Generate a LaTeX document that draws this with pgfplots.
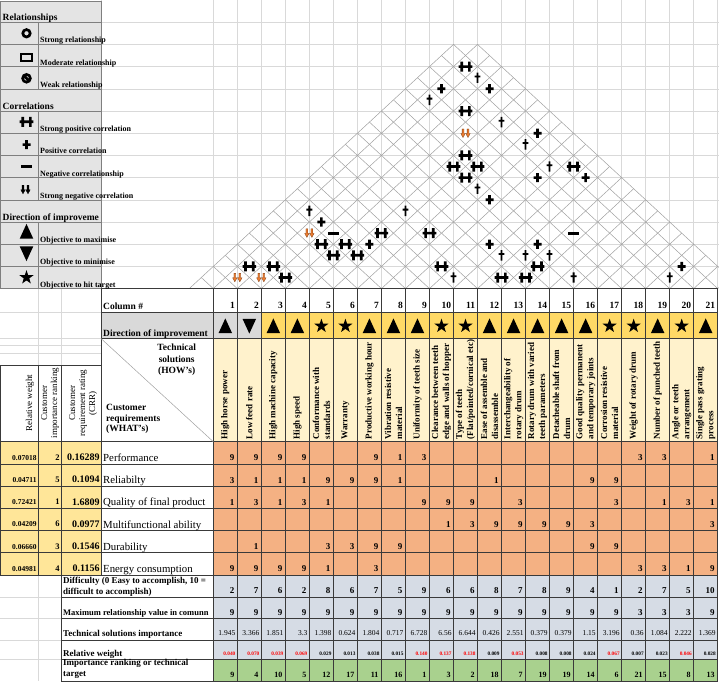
\documentclass[border=0pt]{standalone}
\usepackage{fontspec}
\setmainfont{Liberation Serif}
\usepackage{pgfplots}
\pgfplotsset{compat=1.18}
\usepackage{pgfplotstable}

\definecolor{lgrid}{HTML}{D9D9D9}
\definecolor{roofc}{HTML}{A0A0A0}
\definecolor{bord}{HTML}{3A3A3A}
\definecolor{legg}{HTML}{E4E4E4}
\definecolor{legb}{HTML}{7F7F7F}
\definecolor{diry}{HTML}{FFD966}
\definecolor{dirg}{HTML}{D9D9D9}
\definecolor{hdry}{HTML}{FFF2CC}
\definecolor{cello}{HTML}{F4B183}
\definecolor{lefty}{HTML}{FFE699}
\definecolor{botb}{HTML}{D6DCE5}
\definecolor{botg}{HTML}{A9D18E}
\definecolor{arro}{HTML}{ED7D31}
\definecolor{arrd}{HTML}{7A3A10}

\newcommand{\fz}[2]{\fontsize{#1}{#2}\selectfont}

% ---------- plot marks ----------
\pgfdeclareplotmark{spos}{%
  \pgfpathrectangle{\pgfpoint{-6.8pt}{-1.35pt}}{\pgfpoint{13.6pt}{2.7pt}}%
  \pgfpathrectangle{\pgfpoint{-5.2pt}{-5pt}}{\pgfpoint{2.7pt}{10pt}}%
  \pgfpathrectangle{\pgfpoint{2.5pt}{-5pt}}{\pgfpoint{2.7pt}{10pt}}%
  \pgfusepathqfill}
\pgfdeclareplotmark{pos}{%
  \pgfpathrectangle{\pgfpoint{-4pt}{-1.35pt}}{\pgfpoint{8pt}{2.7pt}}%
  \pgfpathrectangle{\pgfpoint{-1.35pt}{-4.6pt}}{\pgfpoint{2.7pt}{9.2pt}}%
  \pgfusepathqfill}
\pgfdeclareplotmark{wpos}{%
  \pgfpathrectangle{\pgfpoint{-2.9pt}{0.4pt}}{\pgfpoint{5.8pt}{1.8pt}}%
  \pgfpathrectangle{\pgfpoint{-0.9pt}{-5.2pt}}{\pgfpoint{1.8pt}{10.4pt}}%
  \pgfusepathqfill}
\pgfdeclareplotmark{negm}{%
  \pgfpathrectangle{\pgfpoint{-5.2pt}{-1.5pt}}{\pgfpoint{10.4pt}{3pt}}%
  \pgfusepathqfill}
\newcommand{\twoarrows}{%
  \pgfpathmoveto{\pgfpoint{-3.4pt}{4.3pt}}\pgfpathlineto{\pgfpoint{-3.4pt}{-0.3pt}}%
  \pgfpathlineto{\pgfpoint{-4.7pt}{-0.3pt}}\pgfpathlineto{\pgfpoint{-2.5pt}{-4.3pt}}%
  \pgfpathlineto{\pgfpoint{-0.3pt}{-0.3pt}}\pgfpathlineto{\pgfpoint{-1.6pt}{-0.3pt}}%
  \pgfpathlineto{\pgfpoint{-1.6pt}{4.3pt}}\pgfpathclose
  \pgfpathmoveto{\pgfpoint{1.6pt}{4.3pt}}\pgfpathlineto{\pgfpoint{1.6pt}{-0.3pt}}%
  \pgfpathlineto{\pgfpoint{0.3pt}{-0.3pt}}\pgfpathlineto{\pgfpoint{2.5pt}{-4.3pt}}%
  \pgfpathlineto{\pgfpoint{4.7pt}{-0.3pt}}\pgfpathlineto{\pgfpoint{3.4pt}{-0.3pt}}%
  \pgfpathlineto{\pgfpoint{3.4pt}{4.3pt}}\pgfpathclose}
\pgfdeclareplotmark{sneg}{%
  \pgfsetlinewidth{0.3pt}\pgfsetfillcolor{arro}\pgfsetstrokecolor{arrd}%
  \twoarrows\pgfusepathqfillstroke}
\pgfdeclareplotmark{snegk}{%
  \pgfsetlinewidth{0.3pt}\pgfsetfillcolor{black}\pgfsetstrokecolor{black}%
  \twoarrows\pgfusepathqfillstroke}
\pgfdeclareplotmark{ring}{%
  \pgfsetlinewidth{2.7pt}\pgfpathcircle{\pgfpointorigin}{3.7pt}\pgfusepathqstroke}
\pgfdeclareplotmark{sqr}{%
  \pgfsetlinewidth{1.9pt}\pgfpathrectangle{\pgfpoint{-5.2pt}{-3.8pt}}{\pgfpoint{10.4pt}{7.6pt}}\pgfusepathqstroke}
\pgfdeclareplotmark{weak}{%
  \pgfsetlinewidth{2.6pt}\pgfpathcircle{\pgfpointorigin}{3.9pt}%
  \pgfpathmoveto{\pgfpoint{-2.8pt}{2.8pt}}\pgfpathlineto{\pgfpoint{2.8pt}{-2.8pt}}\pgfusepathqstroke}
\pgfdeclareplotmark{tup}{%
  \pgfpathmoveto{\pgfpoint{0pt}{7.6pt}}\pgfpathlineto{\pgfpoint{6.8pt}{-7.2pt}}%
  \pgfpathlineto{\pgfpoint{-6.8pt}{-7.2pt}}\pgfpathclose\pgfusepathqfill}
\pgfdeclareplotmark{tdn}{%
  \pgfpathmoveto{\pgfpoint{0pt}{-7.6pt}}\pgfpathlineto{\pgfpoint{6.8pt}{7.2pt}}%
  \pgfpathlineto{\pgfpoint{-6.8pt}{7.2pt}}\pgfpathclose\pgfusepathqfill}
\pgfdeclareplotmark{fstar}{%
  \pgfpathmoveto{\pgfpointpolar{90}{7.4pt}}\pgfpathlineto{\pgfpointpolar{126}{2.9pt}}%
  \pgfpathlineto{\pgfpointpolar{162}{7.4pt}}\pgfpathlineto{\pgfpointpolar{198}{2.9pt}}%
  \pgfpathlineto{\pgfpointpolar{234}{7.4pt}}\pgfpathlineto{\pgfpointpolar{270}{2.9pt}}%
  \pgfpathlineto{\pgfpointpolar{306}{7.4pt}}\pgfpathlineto{\pgfpointpolar{342}{2.9pt}}%
  \pgfpathlineto{\pgfpointpolar{18}{7.4pt}}\pgfpathlineto{\pgfpointpolar{54}{2.9pt}}%
  \pgfpathclose\pgfusepathqfill}

% ---------- data ----------
\pgfplotstableread{
i j t
1 21 sp
1 19 p
1 18 w
2 21 w
3 21 p
3 19 sp
4 18 sn
5 20 w
7 21 p
7 20 w
5 17 sp
5 16 sp
6 16 sp
6 17 sp
7 16 w
8 16 p
9 20 w
10 21 sp
9 19 p
11 21 p
1 8 w
2 8 p
2 7 sn
3 8 n
3 7 sp
4 8 sp
4 7 sp
5 8 sp
5 9 p
5 10 sp
5 12 w
7 12 sp
9 11 sp
10 11 w
13 18 n
10 14 p
12 16 p
11 14 w
12 15 w
13 16 w
13 15 sp
12 13 sp
13 14 sp
15 16 w
19 21 p
19 20 w
1 2 sn
2 3 sn
1 3 sp
2 4 sp
3 4 sp
}\rooftab

\pgfplotstableread{
r c v
1 1 9
1 2 9
1 3 9
1 4 9
1 7 9
1 8 1
1 9 3
1 18 3
1 19 3
1 21 1
2 1 3
2 2 1
2 3 1
2 4 1
2 5 9
2 6 9
2 7 9
2 8 1
2 12 1
2 16 9
2 17 9
3 1 1
3 2 3
3 3 1
3 4 3
3 5 1
3 9 9
3 10 9
3 11 9
3 13 3
3 17 3
3 19 1
3 20 3
3 21 1
4 10 1
4 11 3
4 12 9
4 13 9
4 14 9
4 15 9
4 16 3
4 21 3
5 2 1
5 5 3
5 6 3
5 7 9
5 8 9
5 16 9
5 17 9
6 1 9
6 2 9
6 3 9
6 4 9
6 5 1
6 7 3
6 18 3
6 19 3
6 20 1
6 21 9
}\relmat

\pgfplotstableread{
c d
1 u
2 dn
3 u
4 u
5 s
6 s
7 u
8 u
9 u
10 s
11 s
12 u
13 u
14 u
15 u
16 u
17 s
18 s
19 u
20 s
21 u
}\dirtab

\pgfplotstableread{
c dif mx tsi rw red rk
1 2 9 1.945 0.040 1 9
2 7 9 3.366 0.070 1 4
3 6 9 1.851 0.039 1 10
4 2 9 3.3 0.069 1 5
5 8 9 1.398 0.029 0 12
6 6 9 0.624 0.013 0 17
7 7 9 1.804 0.038 0 11
8 5 9 0.717 0.015 0 16
9 9 9 6.728 0.140 1 1
10 6 9 6.56 0.137 1 3
11 6 9 6.644 0.138 1 2
12 8 9 0.426 0.009 0 18
13 7 9 2.551 0.053 1 7
14 8 9 0.379 0.008 0 19
15 9 9 0.379 0.008 0 19
16 4 9 1.15 0.024 0 14
17 1 9 3.196 0.067 1 6
18 2 3 0.36 0.007 0 21
19 7 3 1.084 0.023 0 15
20 5 3 2.222 0.046 1 8
21 10 9 1.369 0.028 0 13
}\bottab

\pgfplotstableread{
r w k q
1 0.07018 2 0.16289
2 0.04711 5 0.1094
3 0.72421 1 1.6809
4 0.04209 6 0.0977
5 0.06660 3 0.1546
6 0.04981 4 0.1156
}\lefttab

\pgfplotsset{
  lab/.style={draw=none, point meta=explicit symbolic,
    nodes near coords={\smash{\llap{\pgfplotspointmeta}}},
    every node near coord/.append style={inner sep=0pt, font=#1}},
  labc/.style={draw=none, point meta=explicit symbolic,
    visualization depends on={\thisrow{red} \as \isred},
    nodes near coords={\smash{\llap{\ifdim\isred pt>0.5pt\color{red}\fi\pgfplotspointmeta}}},
    every node near coord/.append style={inner sep=0pt, font=#1}},
}
\tikzset{
  tl/.style={anchor=base west, inner sep=0pt},
  hdr/.style={rotate=90, anchor=west, align=left, inner sep=0pt, font=\bfseries\fz{9}{11}},
  lhdr/.style={rotate=90, align=center, inner sep=0pt, font=\fz{9}{10}},
}

\begin{document}
\begin{tikzpicture}
\begin{axis}[x=1pt, y=1pt, y dir=reverse, xmin=0, xmax=719, ymin=0, ymax=681,
  hide axis, clip=false]

% ---------- fills ----------
\fill[legg] (0,1) rectangle (101,288.6);
\fill[dirg] (101,312.5) rectangle (261.34,338.5);
\fill[diry] (261.34,312.5) rectangle (717.7,338.5);
\fill[hdry] (213.3,338.5) rectangle (717.7,441.7);
\fill[cello] (213.3,441.7) rectangle (717.7,574.9);
\fill[lefty] (0,441.7) rectangle (101,574.9);
\fill[botb] (213.3,574.9) rectangle (717.7,659.5);
\fill[botg] (213.3,659.5) rectangle (717.7,681);

% ---------- light sheet grid ----------
\pgfplotsinvokeforeach{1,...,12}{\draw[lgrid,line width=0.5pt] (101,{22.2*#1}) -- (719,{22.2*#1});}
\pgfplotsinvokeforeach{0,...,21}{\draw[lgrid,line width=0.5pt] ({213.3+24.02*#1},0) -- ({213.3+24.02*#1},288.6);}
\draw[lgrid,line width=0.5pt] (101.6,0) -- (101.6,288.6);
\draw[lgrid,line width=0.5pt] (38.3,288.6) -- (38.3,365) (61,288.6) -- (61,365)
  (0,312.5) -- (101,312.5) (0,338.5) -- (101,338.5) (0,345) -- (101,345) (0,353.5) -- (101,353.5);
\draw[lgrid,line width=0.5pt] (0,597.1) -- (61,597.1) (0,618.7) -- (61,618.7) (0,640) -- (61,640)
  (0,659.5) -- (61,659.5) (38.3,574.9) -- (38.3,681);

% ---------- roof lattice ----------
\begin{scope}
\clip (101,44.4) rectangle (719,288.6);
\pgfplotsinvokeforeach{-1,...,21}{\draw[roofc,line width=0.5pt] ({213.3+24.02*(#1)},288.6) -- ({213.3+24.02*(#1)+12.01*(22-(#1))},{288.6-11.1*(22-(#1))});}
\pgfplotsinvokeforeach{0,...,22}{\draw[roofc,line width=0.5pt] ({213.3+24.02*(#1)},288.6) -- ({213.3+24.02*(#1)-12.01*((#1)+1)},{288.6-11.1*((#1)+1)});}
\end{scope}

% ---------- legend box ----------
\draw[legb,line width=0.6pt] (0,1) rectangle (101,288.6);
\pgfplotsinvokeforeach{1,...,12}{\draw[legb,line width=0.6pt] (0,{22.2*#1}) -- (101,{22.2*#1});}
\draw[legb,line width=0.6pt] (38.3,22.2) -- (38.3,88.8) (38.3,111) -- (38.3,199.8) (38.3,222) -- (38.3,288.6);

% ---------- table borders ----------
\draw[bord,line width=0.6pt] (101,288.6) -- (717.7,288.6) (101,312.5) -- (717.7,312.5) (101,338.5) -- (717.7,338.5);
\pgfplotsinvokeforeach{0,...,21}{\draw[bord,line width=0.6pt] ({213.3+24.02*#1},288.6) -- ({213.3+24.02*#1},681);}
\draw[bord,line width=0.6pt] (101,288.6) -- (101,574.9) (0,365) -- (101,365) (0,365) -- (0,574.9)
  (38.3,365) -- (38.3,574.9) (61,365) -- (61,681);
\pgfplotsinvokeforeach{0,...,6}{\draw[bord,line width=0.6pt] (0,{441.7+22.2*#1}) -- (717.7,{441.7+22.2*#1});}
\draw[bord,line width=0.6pt] (61,597.1) -- (717.7,597.1) (61,618.7) -- (717.7,618.7) (61,640) -- (717.7,640)
  (61,659.5) -- (717.7,659.5) (61,681) -- (717.7,681);
\draw[roofc,line width=0.5pt] (101,338.5) -- (213.3,441.7);

% ---------- legend texts ----------
\node[tl, font=\bfseries\fz{9.5}{10}] at (2.5,20.5) {Relationships};
\node[tl, font=\bfseries\fz{9.5}{10}] at (2.5,109.5) {Correlations};
\node[tl, font=\bfseries\fz{9.5}{10}] at (2.5,220) {Direction of improveme};
\node[tl, font=\bfseries\fz{8}{9}] at (40,42.9) {Strong relationship};
\node[tl, font=\bfseries\fz{8}{9}] at (40,65.1) {Moderate relationship};
\node[tl, font=\bfseries\fz{8}{9}] at (40,87.3) {Weak relationship};
\node[tl, font=\bfseries\fz{8}{9}] at (40,131.7) {Strong positive correlation};
\node[tl, font=\bfseries\fz{8}{9}] at (40,153.9) {Positive correlation};
\node[tl, font=\bfseries\fz{8}{9}] at (40,176.1) {Negative correlationship};
\node[tl, font=\bfseries\fz{8}{9}] at (40,198.3) {Strong negative correlation};
\node[tl, font=\bfseries\fz{8}{9}] at (40,242.7) {Objective to maximise};
\node[tl, font=\bfseries\fz{8}{9}] at (40,264.9) {Objective to minimise};
\node[tl, font=\bfseries\fz{8}{9}] at (40,287.1) {Objective to hit target};

% ---------- row / column labels ----------
\node[tl, font=\bfseries\fz{9.5}{10}] at (103,309.5) {Column \#};
\node[tl, font=\bfseries\fz{9.5}{10}] at (103,336) {Direction of improvement};

\node[anchor=base, inner sep=0pt, font=\bfseries\fz{9.5}{10}] at (176.7,350.5) {Technical};
\node[anchor=base, inner sep=0pt, font=\bfseries\fz{9.5}{10}] at (176.7,362) {solutions};
\node[anchor=base, inner sep=0pt, font=\bfseries\fz{9.5}{10}] at (176.7,373.5) {(HOW's)};
\node[tl, font=\bfseries\fz{9.5}{10}] at (106,410) {Customer};
\node[tl, font=\bfseries\fz{9.5}{10}] at (106,421) {requirements};
\node[tl, font=\bfseries\fz{9.5}{10}] at (106,431.8) {(WHAT's)};

\node[lhdr] at (30,403) {Relative weight};
\node[lhdr] at (50,403) {Customer\\importance ranking};
\node[lhdr] at (83,403) {Customer\\requirement rating\\(CRR)};

\begin{scope}
\clip (213.3,338.5) rectangle (717.7,441.7);
\node[hdr] at ({201.29+24.02*1},439.5) {High horse power};
\node[hdr] at ({201.29+24.02*2},439.5) {Low feed rate};
\node[hdr] at ({201.29+24.02*3},439.5) {High machine capacity};
\node[hdr] at ({201.29+24.02*4},439.5) {High speed};
\node[hdr] at ({201.29+24.02*5},439.5) {Conformance with\\standards};
\node[hdr] at ({201.29+24.02*6},439.5) {Warranty};
\node[hdr] at ({201.29+24.02*7},439.5) {Productive working hour};
\node[hdr] at ({201.29+24.02*8},439.5) {Vibration resistive\\material};
\node[hdr] at ({201.29+24.02*9},439.5) {Uniformity of teeth size};
\node[hdr] at ({201.29+24.02*10},439.5) {Clearance between teeth\\edge and walls of hopper};
\node[hdr] at ({201.29+24.02*11},439.5) {Type of teeth\\(Flat/pointed/cornical etc)};
\node[hdr] at ({201.29+24.02*12},439.5) {Ease of assemble and\\disassemble};
\node[hdr] at ({201.29+24.02*13},439.5) {Interchangeability of\\rotary drum};
\node[hdr] at ({201.29+24.02*14},439.5) {Rotary drum with varied\\teeth parameters};
\node[hdr] at ({201.29+24.02*15},439.5) {Detacheable shaft from\\drum};
\node[hdr] at ({201.29+24.02*16},439.5) {Good quality permanent\\and temporary joints};
\node[hdr] at ({201.29+24.02*17},439.5) {Corrosion resistive\\material};
\node[hdr] at ({201.29+24.02*18},439.5) {Weight of rotary drum};
\node[hdr] at ({201.29+24.02*19},439.5) {Number of punched teeth};
\node[hdr] at ({201.29+24.02*20},439.5) {Angle or teeth\\arrangement};
\node[hdr] at ({201.29+24.02*21},439.5) {Single pass grating\\process};
\end{scope}

\node[tl, font=\fz{10.8}{12}] at (103,461.4) {Performance};
\node[tl, font=\fz{10.8}{12}] at (103,483.6) {Reliabilty};
\node[tl, font=\fz{10.8}{12}] at (103,505.8) {Quality of final product};
\node[tl, font=\fz{10.8}{12}] at (103,528) {Multifunctional ability};
\node[tl, font=\fz{10.8}{12}] at (103,550.2) {Durability};
\node[tl, font=\fz{10.8}{12}] at (103,572.4) {Energy consumption};

\node[tl, font=\bfseries\fz{9}{10}] at (63,583.3) {Difficulty (0 Easy to accomplish, 10 =};
\node[tl, font=\bfseries\fz{9}{10}] at (63,594.3) {difficult to accomplish)};
\node[tl, font=\bfseries\fz{8.5}{10}] at (63,615.8) {Maximum relationship value in comunn};
\node[tl, font=\bfseries\fz{9}{10}] at (63,636.5) {Technical solutions importance};
\node[tl, font=\bfseries\fz{9}{10}] at (63,656.3) {Relative weight};
\node[tl, font=\bfseries\fz{9}{10}] at (63,665.5) {Importance ranking or technical};
\node[tl, font=\bfseries\fz{9}{10}] at (63,676.5) {target};

% ---------- legend icons ----------
\addplot[only marks, mark=ring, black] coordinates {(26.5,33.3)};
\addplot[only marks, mark=sqr, black] coordinates {(26.5,57.5)};
\addplot[only marks, mark=weak, black] coordinates {(26.5,78.3)};
\addplot[only marks, mark=spos, black] coordinates {(26.5,121.8)};
\addplot[only marks, mark=pos, black] coordinates {(26.5,144.6)};
\addplot[only marks, mark=negm, black] coordinates {(26.5,166.5)};
\addplot[only marks, mark=snegk, black] coordinates {(25.5,189.5)};
\addplot[only marks, mark=tup, black] coordinates {(26.5,231.5)};
\addplot[only marks, mark=tdn, black] coordinates {(26.5,253.5)};
\addplot[only marks, mark=fstar, black] coordinates {(26.5,277.5)};

% ---------- roof correlations ----------
\addplot[scatter, only marks, point meta=explicit symbolic,
  scatter/classes={sp={mark=spos,black}, p={mark=pos,black}, w={mark=wpos,black},
    n={mark=negm,black}, sn={mark=sneg,black}}]
  table[x expr={201.29+12.01*(\thisrow{i}+\thisrow{j})},
        y expr={288.6-11.1*(\thisrow{j}-\thisrow{i})}, meta=t] {\rooftab};

% ---------- direction of improvement ----------
\addplot[scatter, only marks, point meta=explicit symbolic,
  scatter/classes={u={mark=tup,black}, dn={mark=tdn,black}, s={mark=fstar,black}}]
  table[x expr={201.29+24.02*\thisrow{c}}, y expr={326}, meta=d] {\dirtab};

% ---------- numbers ----------
\addplot[lab={\bfseries\fz{9.5}{10}}]
  table[x expr={213.3+24.02*\thisrow{c}-2.5}, y expr={309.5}, meta=c] {\bottab};
\addplot[lab={\bfseries\fz{9}{10}}]
  table[x expr={213.3+24.02*\thisrow{c}-3}, y expr={441.7+22.2*\thisrow{r}-2.3}, meta=v] {\relmat};
\addplot[lab={\bfseries\fz{9}{10}}]
  table[x expr={213.3+24.02*\thisrow{c}-3}, y expr={594.3}, meta=dif] {\bottab};
\addplot[lab={\bfseries\fz{9}{10}}]
  table[x expr={213.3+24.02*\thisrow{c}-3}, y expr={615.8}, meta=mx] {\bottab};
\addplot[lab={\fz{7.5}{8}}]
  table[x expr={213.3+24.02*\thisrow{c}-2}, y expr={636.5}, meta=tsi] {\bottab};
\addplot[labc={\bfseries\fz{5.3}{6}}]
  table[x expr={213.3+24.02*\thisrow{c}-2}, y expr={656.5}, meta=rw] {\bottab};
\addplot[lab={\bfseries\fz{8}{9}}]
  table[x expr={213.3+24.02*\thisrow{c}-3}, y expr={678}, meta=rk] {\bottab};

\addplot[lab={\bfseries\fz{7.5}{8}}]
  table[x expr={36.5}, y expr={441.7+22.2*\thisrow{r}-3}, meta=w] {\lefttab};
\addplot[lab={\bfseries\fz{8.5}{9}}]
  table[x expr={59.5}, y expr={441.7+22.2*\thisrow{r}-3}, meta=k] {\lefttab};
\addplot[lab={\bfseries\fz{10}{11}}]
  table[x expr={99.5}, y expr={441.7+22.2*\thisrow{r}-2.5}, meta=q] {\lefttab};

\end{axis}
\pgfresetboundingbox
\path (current axis.south west) rectangle (current axis.north east);
\end{tikzpicture}
\end{document}
